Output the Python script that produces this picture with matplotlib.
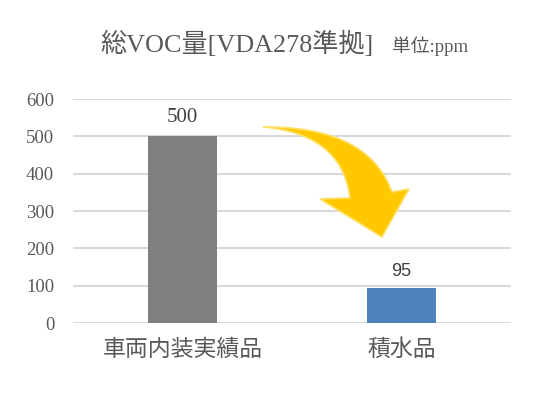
import numpy as np
import matplotlib
matplotlib.use("Agg")
import matplotlib.pyplot as plt
from matplotlib.patches import Polygon

# データ
categories = ["車両内装実績品", "積水品"]
values = [500, 95]
bar_colors = ["#7F7F7F", "#4F81BD"]
yticks = [0, 100, 200, 300, 400, 500, 600]

serif = ["Liberation Serif", "Noto Sans CJK JP"]
plt.rcParams["font.family"] = serif

W, H = 550, 404
fig = plt.figure(figsize=(W / 100, H / 100), dpi=100)
ax = fig.add_axes([73 / W, 1 - 323 / H, (511 - 73) / W, (323 - 99) / H])

x = np.arange(len(categories))
ax.bar(x, values, width=0.315, color=bar_colors, zorder=3)

ax.set_xlim(-0.5, 1.5)
ax.set_ylim(0, 600)
ax.set_yticks(yticks)
ax.set_yticklabels([str(v) for v in yticks], color="#595959", fontsize=13.5)
ax.set_xticks(x)
ax.set_xticklabels(categories, color="#595959", fontsize=16.5, family="Noto Sans CJK JP")
ax.tick_params(axis="y", length=0, pad=13.5)
ax.tick_params(axis="x", length=0, pad=11)
ax.grid(axis="y", color="#D9D9D9", linewidth=1.5, zorder=0)
for s in ax.spines.values():
    s.set_visible(False)

# 値ラベル
ax.text(x[0], values[0] + 25, str(values[0]), ha="center", va="bottom",
        fontsize=15, color="#404040")
ax.text(x[1], values[1] + 20, str(values[1]), ha="center", va="bottom",
        fontsize=13, color="#404040", family="Liberation Sans")

# タイトル
fig.text(100 / W, 1 - 44 / H, "総VOC量[VDA278準拠]", fontsize=18.8, color="#595959",
         va="center", ha="left")
fig.text(392 / W, 1 - 46 / H, "単位:ppm", fontsize=13.5, color="#595959",
         va="center", ha="left")


# 矢印 (装飾)
def qbez(p0, c, p2, n=40):
    t = np.linspace(0, 1, n)[:, None]
    p0, c, p2 = map(np.array, (p0, c, p2))
    return (1 - t) ** 2 * p0 + 2 * (1 - t) * t * c + t ** 2 * p2

outer = qbez((263, 127), (368, 126), (392, 192))
inner = qbez((263, 127), (342, 134), (350, 198))
pts = np.vstack([outer, [(409, 189), (382, 237), (320, 199)], inner[::-1]])
pts = np.column_stack([pts[:, 0] / W, 1 - pts[:, 1] / H])
fig.patches.append(Polygon(pts, closed=True, transform=fig.transFigure,
                           facecolor="#FFC800", edgecolor="#FFE066",
                           linewidth=1.2, zorder=5))

fig.savefig("out.png", dpi=100)
